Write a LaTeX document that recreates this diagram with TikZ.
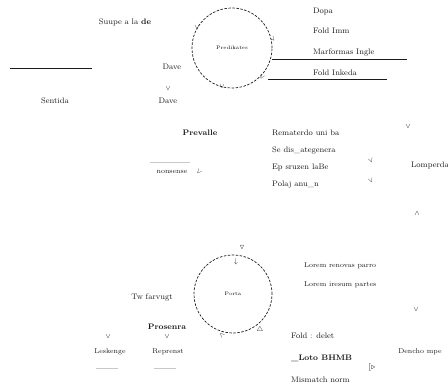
\documentclass[tikz,border=0pt]{standalone}
\usepackage{amssymb}
\usepackage{amsmath}
\usepackage{xcolor}
\usepackage{tikz}
\usetikzlibrary{arrows.meta}
\definecolor{faint}{HTML}{C8C8C8}
\definecolor{ink}{HTML}{1A1A1A}

\begin{document}
\begin{tikzpicture}[x=1pt, y=-1pt,
    lbl/.style={font=\footnotesize, text=ink, inner sep=1pt},
    lblw/.style={lbl, anchor=west},
    vmark/.style={font=\scriptsize, text=ink, inner sep=0pt},
    loopring/.style={draw=ink, dash pattern=on 2.5pt off 1.5pt, line width=0.7pt},
    bar/.style={draw=ink, line width=1pt},
    ghost/.style={draw=faint, line width=0.8pt}
]
  \useasboundingbox (0,0) rectangle (448,390);

  % Upper loop
  \node[loopring, circle, minimum size=80pt, font=\tiny] (top) at (232,48) {Predikates};
  \node[lbl] (title) at (125,22) {Suupe a la \textbf{de}};
  \node[lbl] (dave1) at (172,67) {Dave};
  \node[vmark] (v1) at (168,89) {$\vee$};
  \node[lbl] (dave2) at (168,101) {Dave};
  \node[vmark] at (197,28) {$\vee$};
  \node[vmark, rotate=40] at (273,39) {$\vee$};
  \node[vmark, rotate=-30] at (262,77) {$\vee$};
  \node[vmark] at (222,87) {$\vee$};

  % Left bar
  \coordinate (barA) at (10,69);
  \coordinate (barB) at (92,69);
  \draw[bar] (barA) -- (barB);
  \node[lbl] (sent) at (55,101) {Sentida};

  % Outputs of the upper loop
  \node[lblw] (dopa) at (312,12) {Dopa};
  \node[lblw] (fold1) at (312,31) {Fold Imm};
  \node[lblw] (marf) at (312,53) {Marformas Ingle};
  \node[lblw] (fold2) at (312,73) {Fold Inkeda};
  \coordinate (inA) at (272,60);
  \coordinate (outA) at (407,60);
  \coordinate (inB) at (268,80);
  \coordinate (outB) at (387,80);
  \draw[bar] (inA) -- (outA);
  \draw[bar] (inB) -- (outB);

  % Middle
  \node[lbl] (prev) at (200,133) {\textbf{Prevalle}};
  \coordinate (gA) at (150,162);
  \coordinate (gB) at (190,162);
  \draw[ghost] (gA) -- (gB);
  \node[lbl, font=\scriptsize] (non) at (172,172) {nonsense};
  \node[vmark, rotate=-45] at (199,172) {$\vee$};

  % List
  \node[lblw] (l1) at (271,133) {Rematerdo uni ba};
  \node[lblw] (l2) at (271,151) {Se dis\_ategenera};
  \node[lblw] (l3) at (271,168) {Ep sruzen laBe};
  \node[lblw] (l4) at (271,185) {Polaj anu\_n};
  \node[vmark, rotate=20] at (371,161) {$\vee$};
  \node[vmark, rotate=20] at (371,181) {$\vee$};
  \node[vmark] at (408,127) {$\vee$};
  \node[lbl] (lomp) at (430,166) {Lomperda};
  \node[vmark] at (417,214) {$\wedge$};

  % Lower loop
  \node[loopring, circle, minimum size=78pt, font=\tiny] (bot) at (233,294) {Porta};
  \node[vmark] at (242,248) {$\triangledown$};
  \node[vmark] at (236,262) {$\downarrow$};
  \node[vmark] at (260,330) {$\triangle$};
  \node[vmark, rotate=45] at (222,335) {$\wedge$};

  % Right of lower loop
  \node[lblw, font=\scriptsize] (lo1) at (303,266) {Lorem renovas parro};
  \node[lblw, font=\scriptsize] (lo2) at (303,285) {Lorem iresum partes};
  \node[vmark] at (416,310) {$\vee$};
  \node[lblw] (fd) at (290,336) {Fold : delet};
  \node[lblw] (lt) at (290,358) {\textbf{\_Loto BHMB}};
  \node[lblw] (mm) at (290,380) {Mismatch norm};
  \node[lbl] (brk) at (372,368) {[$\triangleright$};
  \node[lbl, font=\scriptsize] (den) at (420,352) {Dencho mpe};

  % Left of lower loop
  \node[lbl] (tw) at (152,298) {Tw farvugt};
  \node[lbl] (pro) at (167,327) {\textbf{Prosenra}};
  \node[vmark] at (108,337) {$\vee$};
  \node[vmark] at (167,337) {$\vee$};
  \node[lbl, font=\scriptsize] (lesk) at (110,352) {Leskenge};
  \node[lbl, font=\scriptsize] (repr) at (168,352) {Reprenst};
  \draw[ghost] (lesk.south west) ++(3,12) -- ++(22,0);
  \draw[ghost] (repr.south west) ++(3,12) -- ++(22,0);

\end{tikzpicture}
\end{document}
